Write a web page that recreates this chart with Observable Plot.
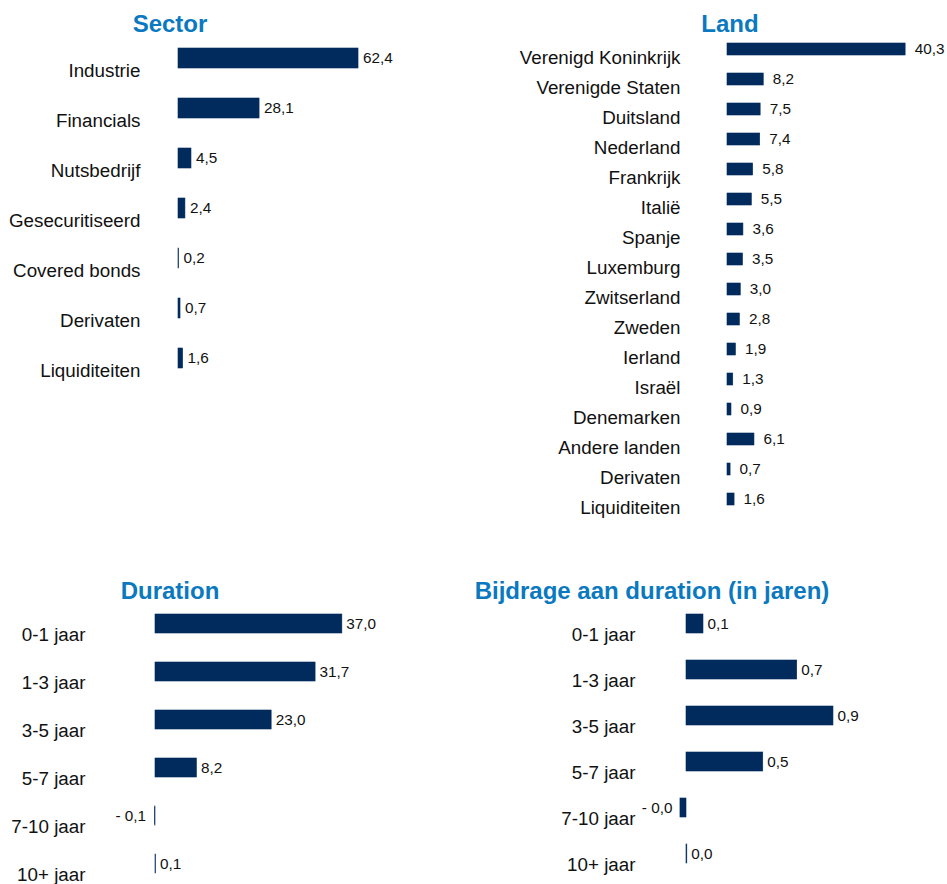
<!DOCTYPE html>
<html><head><meta charset="utf-8">
<script src="https://cdn.jsdelivr.net/npm/d3@7"></script>
<script src="https://cdn.jsdelivr.net/npm/@observablehq/plot@0.6"></script>
<style>
body{margin:0;background:#fff;}
#root{position:relative;width:947px;height:884px;overflow:hidden;font-family:"Liberation Sans",Arial,sans-serif;}
.title{position:absolute;width:400px;text-align:center;font-weight:bold;font-size:24px;line-height:24px;color:#0a79c0;white-space:nowrap;}
.panel{position:absolute;}
</style></head><body><div id="root"></div>
<script>
// ---- data ----
const sectorCats = ["Industrie","Financials","Nutsbedrijf","Gesecuritiseerd","Covered bonds","Derivaten","Liquiditeiten"];
const sectorVals = [62.4, 28.1, 4.5, 2.4, 0.2, 0.7, 1.6];

const landCats = ["Verenigd Koninkrijk","Verenigde Staten","Duitsland","Nederland","Frankrijk","Italië","Spanje","Luxemburg","Zwitserland","Zweden","Ierland","Israël","Denemarken","Andere landen","Derivaten","Liquiditeiten"];
const landVals = [40.3, 8.2, 7.5, 7.4, 5.8, 5.5, 3.6, 3.5, 3.0, 2.8, 1.9, 1.3, 0.9, 6.1, 0.7, 1.6];

const durationCats = ["0-1 jaar","1-3 jaar","3-5 jaar","5-7 jaar","7-10 jaar","10+ jaar"];
const durationVals = [37.0, 31.7, 23.0, 8.2, -0.1, 0.1];

const bijdrageCats = ["0-1 jaar","1-3 jaar","3-5 jaar","5-7 jaar","7-10 jaar","10+ jaar"];
const bijdrageVals = [0.104, 0.678, 0.9, 0.47, -0.037, 0.005];

const titles = ["Sector","Land","Duration","Bijdrage aan duration (in jaren)"];

// ---- drawing ----
const root = document.getElementById("root");
const FONT = "'Liberation Sans', Arial, sans-serif";
const BAR = "#002b5c";
const TXT = "#111";

function fmt(v){ return (v < 0 ? "- " : "") + Math.abs(v).toFixed(1).replace(".", ","); }

function addTitle(text, cx, top){
  const d = document.createElement("div");
  d.className = "title";
  d.textContent = text;
  d.style.left = (cx - 200) + "px";
  d.style.top = top + "px";
  root.appendChild(d);
}

function panel(o){
  const data = o.cats.map((c, i) => ({c, v: o.vals[i]}));
  const n = o.cats.length;
  const pad = 1 - o.barH / o.step;
  const chart = Plot.plot({
    width: o.width, height: o.height,
    marginLeft: o.x0, marginRight: 0, marginTop: 0, marginBottom: 0,
    style: {fontFamily: FONT, background: "transparent", overflow: "visible"},
    x: {domain: [0, 1], range: [o.x0, o.x0 + o.k], axis: null},
    y: {domain: o.cats, range: [o.c0 - o.step / 2, o.c0 + (n - 1) * o.step + o.step / 2],
        paddingInner: pad, paddingOuter: pad / 2, axis: null},
    marks: [
      Plot.barX(data, {x: "v", y: "c", fill: BAR, stroke: BAR, strokeWidth: 0.6}),
      Plot.axisY({tickSize: 0, tickPadding: o.x0 - o.labelRight, dy: o.labelDy, fontSize: 18.8, fill: TXT, label: null}),
      Plot.text(data.filter(d => d.v >= 0), {x: "v", y: "c", text: d => fmt(d.v), textAnchor: "start", dx: o.dx, dy: o.vdy || 0, fontSize: 15.3, fill: TXT}),
      Plot.text(data.filter(d => d.v < 0), {x: "v", y: "c", text: d => fmt(d.v), textAnchor: "end", dx: o.ndx, dy: o.vdy || 0, fontSize: 15.3, fill: TXT})
    ]
  });
  const wrap = document.createElement("div");
  wrap.className = "panel";
  wrap.style.left = o.left + "px";
  wrap.style.top = o.top + "px";
  wrap.appendChild(chart);
  root.appendChild(wrap);
}

addTitle(titles[0], 170, 12);
addTitle(titles[1], 730, 12);
addTitle(titles[2], 170, 579);
addTitle(titles[3], 652, 579);

panel({cats: sectorCats, vals: sectorVals, left: 0, top: 36, width: 460, height: 360,
  x0: 178, k: 2.885, c0: 20, step: 50.67, barH: 20, labelRight: 140, labelDy: 12, dx: 4.5, ndx: -8});

panel({cats: landCats, vals: landVals, left: 500, top: 36, width: 447, height: 490,
  x0: 227, k: 4.42, c0: 13, step: 30, barH: 12, labelRight: 180, labelDy: 8, dx: 9, ndx: -9});

panel({cats: durationCats, vals: durationVals, left: 0, top: 600, width: 460, height: 284,
  x0: 155, k: 5.05, c0: 22, step: 48.4, barH: 19, labelRight: 85, labelDy: 11, dx: 4, ndx: -9});

panel({cats: bijdrageCats, vals: bijdrageVals, left: 470, top: 600, width: 477, height: 284,
  x0: 216, k: 163.3, c0: 22, step: 46.6, barH: 19, labelRight: 165, labelDy: 11, dx: 4, ndx: -8});
</script>
</body></html>
